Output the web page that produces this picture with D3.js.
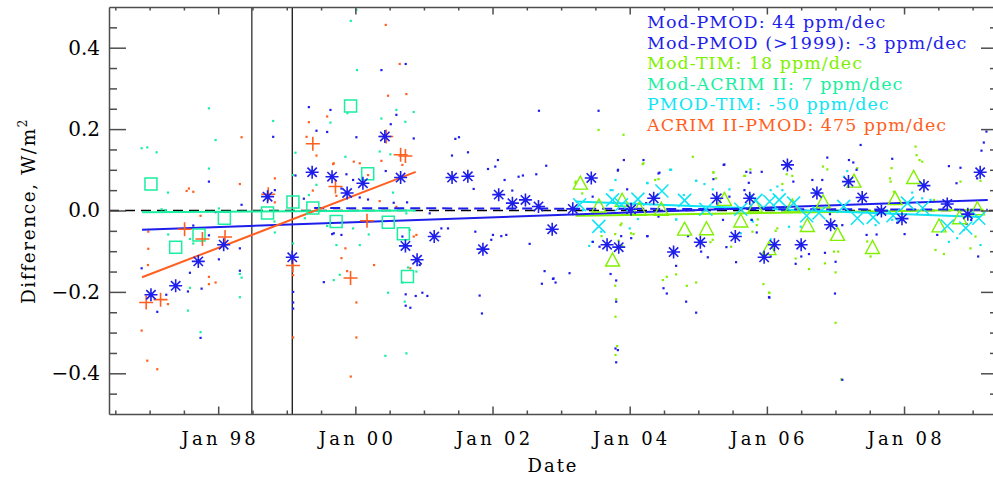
<!DOCTYPE html>
<html>
<head>
<meta charset="utf-8">
<script src="https://cdn.jsdelivr.net/npm/d3@7/dist/d3.min.js"></script>
<style>
  html, body { margin: 0; padding: 0; background: #fff; }
  svg { display: block; }
  .axis path, .axis line { stroke: #4d4d4d; stroke-width: 1.5; }
  .axis text { font-family: "DejaVu Serif", serif; fill: #000; }
</style>
</head>
<body>
<svg id="chart" width="993" height="477"></svg>
<script>
// ---- data (decimal year, W/m^2) ----
const majorYears = [1998, 2000, 2002, 2004, 2006, 2008];
const yMajor = [-0.4, -0.2, 0.0, 0.2, 0.4];
const gapDates = [1998.49, 1999.08]; // SOHO gaps

// Mod-PMOD, individual points
const pmodDots = [
  [1996.884,-0.142],[1997.112,-0.249],[1997.243,-0.207],[1997.588,-0.153],[1997.559,-0.199],
  [1997.758,-0.192],[1997.637,-0.037],[1997.865,-0.061],[1998.01,-0.12],[1997.865,0.071],
  [1998.341,0.014],[1997.962,-0.004],[1998.316,-0.093],[1998.316,-0.148],[1997.743,-0.313],
  [1998.802,0.181],[1998.826,0.05],[1999.127,0.086],[1999.093,-0.20],[1999.093,-0.226],
  [1999.093,-0.241],[1999.322,0.254],[1999.637,0.247],[1999.433,0.196],[1999.589,0.193],
  [1999.249,0.029],[1999.54,-0.176],[1999.662,-0.058],
  [2000.734,0.36],[2000.38,0.345],[2000.598,0.235],[2000.516,0.212],[2000.015,0.18],
  [2000.851,0.177],[2001.458,0.176],[2001.511,0.18],[2001.409,0.135],[2001.642,0.143],
  [2002.079,0.124],[2002.04,0.108],[2001.934,0.102],[2002.176,0.075],[2001.725,0.053],
  [2002.38,0.083],[2002.443,0.086],[2002.638,0.089],[2002.783,0.11],[2002.677,0.245],
  [2002.288,0.049],[2000.443,0.097],[2000.754,0.02],[2000.559,0.019],[2000.185,0.027],
  [2000.064,0.032],[1999.967,0.075],[1999.87,0.089],[1999.797,0.054],[2001.084,-0.007],
  [2001.254,-0.044],[2001.351,-0.044],[2001.749,-0.052],[2002.006,-0.06],[2002.128,-0.063],
  [2002.201,-0.06],[2002.541,-0.082],[2001.982,-0.072],[2000.686,-0.064],[2000.938,-0.134],
  [2000.734,-0.206],[2000.88,-0.21],[2000.734,-0.234],[2000.802,-0.239],[2000.977,-0.202],
  [2001.05,-0.21],[2001.812,-0.209],[2001.846,-0.253],[2002.759,-0.149],[2002.72,-0.18],
  [2002.89,-0.167],[1999.797,-0.06],[1999.685,-0.056],
  [2003.546,0.245],[2003.915,0.124],[2004.201,0.124],[2003.827,0.098],[2004.434,0.093],
  [2003.963,0.052],[2005.221,0.077],[2005.381,0.113],[2005.454,0.034],[2005.736,0.068],
  [2005.673,0.05],[2005.925,0.095],[2004.255,-0.063],[2004.022,-0.068],[2003.876,-0.063],
  [2003.721,-0.156],[2003.803,-0.172],[2003.803,-0.224],[2003.793,-0.339],[2003.827,-0.343],
  [2003.803,-0.373],[2003.123,-0.154],[2002.881,-0.168],[2002.919,-0.177],[2004.493,-0.191],
  [2004.541,-0.204],[2004.823,-0.224],[2004.969,-0.251],[2004.677,-0.136],[2005.139,-0.115],
  [2005.042,-0.101],[2005.551,-0.127],[2005.852,-0.054],[2005.78,-0.023],[2006.037,-0.214],
  [2003.463,-0.077],[2003.39,0.003],[2004.24,0.018],[2003.56,-0.089],
  [2003.83,0.1],[2004.42,0.091],[2005.37,0.112],[2005.76,0.093],[2003.46,0.034],
  [2004.26,-0.063],[2004.85,-0.063],[2004.42,-0.015],[2005.36,-0.023],[2005.41,-0.09],
  [2005.7,0.095],
  [2007.367,0.161],[2006.881,0.13],[2007.197,0.124],[2007.308,0.1],[2007.26,0.118],
  [2007.828,0.127],[2006.808,0.075],[2006.663,0.075],[2006.386,0.071],[2008.654,0.109],
  [2008.823,0.105],[2008.765,0.067],[2009.163,0.167],[2009.129,0.147],[2009.202,0.194],
  [2009.066,0.079],[2006.92,-0.009],[2007.1,-0.036],[2007.017,-0.038],[2006.847,-0.104],
  [2007.002,-0.126],[2006.993,-0.204],[2007.1,-0.416],[2006.42,-0.131],[2006.502,-0.113],
  [2006.614,-0.107],[2006.031,-0.213],[2006.056,-0.113],[2007.454,-0.06],[2007.6,-0.059],
  [2007.901,-0.03],[2008.008,-0.058],[2008.484,-0.06],[2008.911,-0.033],[2008.979,-0.023],
  [2009.081,-0.113]
];
// Mod-PMOD, averages (asterisks)
const pmodAvg = [
  [1997.02,-0.207],[1997.38,-0.185],[1997.71,-0.125],[1998.08,-0.084],[1998.72,0.034],
  [1999.08,-0.115],[1999.37,0.094],[1999.66,0.083],[1999.88,0.043],[2000.11,0.067],
  [2000.43,0.182],[2000.66,0.081],[2000.73,-0.087],[2000.90,-0.121],[2001.15,-0.064],
  [2001.41,0.081],[2001.64,0.084],[2001.86,-0.095],[2002.09,0.039],[2002.29,0.018],
  [2002.48,0.026],[2002.67,0.010],[2002.87,-0.046],[2003.17,0.004],[2003.44,0.080],
  [2003.67,-0.084],[2003.84,-0.090],[2004.02,0.003],[2004.35,0.030],[2004.64,-0.102],
  [2005.03,-0.078],[2005.27,0.030],[2005.54,-0.064],[2005.75,0.030],[2005.96,-0.115],
  [2006.11,-0.084],[2006.30,0.112],[2006.50,-0.084],[2006.73,0.043],[2006.93,-0.035],
  [2007.19,0.071],[2007.39,0.032],[2007.67,-0.001],[2007.97,-0.020],[2008.29,0.061],
  [2008.63,0.016],[2008.93,-0.009],[2009.11,0.094]
];
// Mod-ACRIM II
const acrimDots = [
  [1996.884,0.153],[1996.966,0.155],[1997.102,0.143],[1997.268,0.044],[1997.175,0.003],
  [1997.234,0.001],[1997.865,0.251],[1997.962,0.173],[1997.865,0.103],[1998.01,0.005],
  [1997.272,-0.059],[1997.588,-0.070],[1997.637,-0.081],[1997.588,-0.190],[1997.559,-0.246],
  [1997.743,-0.299],[1998.316,-0.156],[1998.341,-0.165],[1998.316,-0.213],[1998.802,0.220],
  [1999.127,0.142],[1999.093,0.087],[1999.322,0.038],[1998.821,-0.027],[1998.826,-0.054],
  [1999.093,-0.081],[1999.263,-0.019],[1999.637,0.216],[1999.433,0.063],[1999.589,-0.038],
  [2000.015,0.493],[1999.933,0.466],[2000.025,0.345],[2000.598,0.247],[2000.38,0.226],
  [2000.729,0.218],[2000.851,0.242],[1999.855,0.132],[2000.355,0.145],[2000.511,0.138],
  [1999.724,-0.085],[2000.064,-0.085],[1999.967,-0.044],[2000.195,-0.059],[2000.55,0.044],
  [1999.685,-0.171],[1999.773,-0.158],[2000.477,-0.202],[2000.72,-0.224],[2000.744,-0.351],
  [2000.438,-0.357],[2000.744,-0.007],[2000.89,-0.15],[2000.792,-0.048],[2000.686,-0.177],
  [2000.768,-0.14],[1999.884,0.239]
];
const acrimAvg = [
  [1997.02,0.065],[1997.38,-0.090],[1997.72,-0.060],[1998.09,-0.019],[1998.72,-0.006],
  [1999.09,0.021],[1999.38,0.006],[1999.72,-0.027],[1999.93,0.257],[2000.18,0.090],
  [2000.48,-0.029],[2000.70,-0.057],[2000.76,-0.162]
];
// ACRIM II - PMOD
const acrimPmodDots = [
  [1996.981,-0.052],[1996.981,-0.094],[1996.976,-0.134],[1996.884,-0.295],[1996.966,-0.369],
  [1997.112,-0.39],[1997.268,-0.23],[1997.573,0.054],[1997.637,0.046],[1997.54,0.048],
  [1997.743,-0.013],[1997.865,-0.163],[1997.962,-0.177],[1997.865,-0.181],[1998.341,0.18],
  [1998.316,0.065],[1998.826,0.079],[1999.093,-0.159],[1999.093,-0.312],[1999.322,0.217],
  [1999.288,0.181],[1999.433,0.135],[1999.589,0.231],[1999.676,0.114],[1999.38,0.049],
  [1998.826,0.02],
  [2000.443,0.456],[2000.647,0.36],[2000.477,0.282],[2000.744,0.286],[1999.685,0.116],
  [1999.977,0.12],[2000.064,0.116],[2000.38,0.122],[2000.686,0.112],[2000.185,0.087],
  [1999.724,0.036],[2000.355,0.023],[2000.598,0.009],[2000.851,-0.064],[1999.855,-0.093],
  [1999.797,-0.117],[2000.273,-0.134],[1999.88,-0.149],[2000.015,-0.226],[2000.015,-0.312],
  [1999.933,-0.408],[2000.802,-0.142],[2000.89,-0.06]
];
const acrimPmodAvg = [
  [1996.95,-0.226],[1997.16,-0.219],[1997.51,-0.046],[1997.77,-0.070],[1998.10,-0.065],
  [1998.73,0.040],[1999.09,-0.135],[1999.38,0.164],[1999.71,0.059],[1999.93,-0.166],
  [2000.17,-0.025],[2000.45,0.182],[2000.66,0.137],[2000.73,0.134]
];
// Mod-TIM
const timDots = [
  [2003.546,0.198],[2003.91,0.186],[2004.201,0.116],[2004.92,0.132],[2004.595,0.1],
  [2004.371,0.075],[2004.42,0.077],[2005.221,0.094],[2005.26,0.079],[2005.682,0.085],
  [2005.76,0.101],[2003.211,0.071],[2003.308,0.042],[2003.866,-0.036],[2003.789,-0.058],
  [2003.837,-0.074],[2004.056,-0.058],[2003.891,-0.087],[2003.59,-0.063],[2004.483,-0.171],
  [2004.541,-0.163],[2004.677,-0.157],[2004.833,-0.185],[2004.969,-0.177],[2003.789,-0.185],
  [2003.803,-0.218],[2003.793,-0.261],[2003.818,-0.333],[2003.793,-0.355],[2005.177,-0.078],
  [2005.479,-0.089],[2005.852,-0.036],[2005.867,-0.022],[2005.95,-0.181],[2006.037,-0.202],
  [2004.19,0.114],[2005.22,0.093],[2005.67,0.085],[2003.88,-0.032],[2004.02,-0.056],
  [2005.21,-0.072],[2003.21,0.067],[2005.79,-0.052],
  [2008.168,0.157],[2008.183,0.136],[2008.226,0.124],[2008.265,0.12],[2007.818,0.104],
  [2007.794,0.079],[2007.804,0.071],[2007.318,0.104],[2006.881,0.101],[2006.818,0.108],
  [2006.289,0.089],[2006.371,0.085],[2006.226,0.065],[2006.153,-0.044],[2006.128,-0.05],
  [2006.745,0.042],[2007.852,0.046],[2008.435,0.026],[2008.823,0.071],[2006.978,-0.101],
  [2007.041,-0.101],[2006.42,-0.118],[2006.614,-0.144],[2006.847,-0.13],[2007.002,-0.152],
  [2007.002,-0.276],[2007.085,-0.415],[2008.459,-0.097],[2008.581,-0.107],[2008.969,-0.093],
  [2009.042,-0.064],[2009.115,0.073],[2006.031,-0.202],[2007.464,-0.076],[2007.512,-0.113]
];
const timAvg = [
  [2003.28,0.066],[2003.55,0.010],[2003.75,-0.123],[2003.89,0.024],[2004.14,0.002],
  [2004.46,0.002],[2004.80,-0.047],[2005.12,-0.046],[2005.38,0.026],[2005.62,-0.027],
  [2005.83,0.010],[2006.03,-0.095],[2006.37,0.010],[2006.59,-0.038],[2006.82,0.020],
  [2007.03,-0.060],[2007.27,0.071],[2007.54,-0.092],[2007.87,0.028],[2008.14,0.080],
  [2008.51,-0.039],[2008.81,-0.019],[2009.07,0.003]
];
// PMOD - TIM
const pmodTimDots = [
  [2003.793,0.075],[2003.721,0.05],[2004.255,0.068],[2004.969,0.073],[2005.09,0.065],
  [2004.604,0.1],[2004.789,0.038],[2004.677,-0.022],[2004.119,-0.021],[2003.454,-0.077],
  [2003.585,-0.052],[2005.794,-0.027],[2005.454,0.052],[2005.211,0.052],[2003.318,0.001],
  [2003.75,0.05],[2004.26,0.067],[2004.59,0.1],[2004.97,0.073],[2004.68,-0.022],
  [2004.0,-0.044],[2003.41,-0.087],[2005.77,-0.023],[2005.62,-0.056],
  [2006.056,0.05],[2006.153,0.059],[2006.226,0.05],[2007.172,0.097],[2007.124,0.083],
  [2006.687,0.05],[2006.323,-0.04],[2006.493,-0.04],[2007.585,-0.036],[2007.828,-0.023],
  [2008.119,0.044],[2008.265,0.03],[2008.387,0.026],[2008.654,-0.077],[2008.775,-0.068],
  [2008.872,-0.048],[2009.115,-0.085],[2006.056,-0.071],[2006.128,-0.081]
];
const pmodTimAvg = [
  [2003.27,0.014],[2003.55,-0.039],[2003.75,0.026],[2003.88,0.014],[2004.12,0.028],
  [2004.47,0.048],[2004.80,0.025],[2005.11,0.003],[2005.62,0.003],[2005.84,0.025],
  [2006.04,0.022],[2006.18,0.026],[2006.39,0.018],[2006.58,-0.013],[2006.76,-0.006],
  [2007.12,0.010],[2007.32,-0.019],[2007.55,-0.017],[2007.84,-0.013],[2008.05,0.018],
  [2008.27,0.006],[2008.63,-0.038],[2008.90,-0.043],[2009.09,-0.019]
];
// linear fits (end points)
const fitPmod = [[1996.89,-0.047],[2009.22,0.026]];
const fitPmod1999 = [[1999.40,0.006],[2009.22,0.002]];
const fitTim = [[2003.21,-0.013],[2009.16,0.002]];
const fitAcrim = [[1996.89,-0.004],[2000.88,0.000]];
const fitPmodTim = [[2003.21,0.022],[2009.11,-0.016]];
const fitAcrimPmod = [[1996.89,-0.164],[2000.88,0.095]];

const legendLabels = [
  "Mod-PMOD: 44 ppm/dec",
  "Mod-PMOD (>1999): -3 ppm/dec",
  "Mod-TIM: 18 ppm/dec",
  "Mod-ACRIM II: 7 ppm/dec",
  "PMOD-TIM: -50 ppm/dec",
  "ACRIM II-PMOD: 475 ppm/dec"
];

const BLUE = "#1e1eeb", GREEN = "#80f000", AQUA = "#1aeea0", CYAN = "#10e4f4", ORANGE = "#ff5f1f";
const legendColors = [BLUE, BLUE, GREEN, AQUA, CYAN, ORANGE];

// ---- layout ----
const pL = 109, pR = 998, pT = 7, pB = 414;
const x = d3.scaleLinear().domain([1996.408, 2009.37]).range([pL, pR]);
const y = d3.scaleLinear().domain([-0.5, 0.5]).range([pB, pT]);

const svg = d3.select("#chart");

svg.append("defs").append("clipPath").attr("id", "plotclip")
  .append("rect").attr("x", pL).attr("y", pT)
  .attr("width", pR - pL).attr("height", pB - pT);

const plot = svg.append("g").attr("clip-path", "url(#plotclip)");

// zero line
plot.append("line")
  .attr("x1", pL).attr("x2", pR)
  .attr("y1", y(0)).attr("y2", y(0))
  .attr("stroke", "#000").attr("stroke-width", 1.3)
  .attr("stroke-dasharray", "10,6");

// SOHO gap lines
plot.selectAll(".gap").data(gapDates).enter().append("line")
  .attr("x1", d => x(d)).attr("x2", d => x(d))
  .attr("y1", pT).attr("y2", pB)
  .attr("stroke", (d, i) => i === 0 ? "#555" : "#000")
  .attr("stroke-width", (d, i) => i === 0 ? 1.6 : 1.2);

// small dots
function dots(data, color) {
  plot.append("g").selectAll("rect").data(data).enter().append("rect")
    .attr("x", d => x(d[0]) - 1.1).attr("y", d => y(d[1]) - 1.1)
    .attr("width", 2.2).attr("height", 2.2)
    .attr("fill", color);
}
dots(acrimDots, AQUA);
dots(acrimPmodDots, ORANGE);
dots(timDots, GREEN);
dots(pmodTimDots, CYAN);
dots(pmodDots, BLUE);

// fit lines
const line = d3.line().x(d => x(d[0])).y(d => y(d[1]));
function fit(data, color, dash) {
  plot.append("path").datum(data)
    .attr("d", line)
    .attr("fill", "none")
    .attr("stroke", color)
    .attr("stroke-width", 2)
    .attr("stroke-dasharray", dash || null);
}
fit(fitAcrim, AQUA);
fit(fitTim, GREEN);
fit(fitPmodTim, CYAN);
fit(fitPmod, BLUE);
fit(fitPmod1999, BLUE, "10,6");
fit(fitAcrimPmod, ORANGE);

// symbols
const r = 6.5;
const shapes = {
  asterisk: `M0,${-r}V${r}M${-r},0H${r}M${-r * 0.72},${-r * 0.72}L${r * 0.72},${r * 0.72}M${-r * 0.72},${r * 0.72}L${r * 0.72},${-r * 0.72}`,
  plus: `M0,${-r - 0.5}V${r + 0.5}M${-r - 0.5},0H${r + 0.5}`,
  square: `M${-r + 0.5},${-r + 0.5}H${r - 0.5}V${r - 0.5}H${-r + 0.5}Z`,
  triangle: `M0,${-r - 1}L${r + 0.5},${r - 1}H${-r - 0.5}Z`,
  cross: `M${-r},${-r}L${r},${r}M${-r},${r}L${r},${-r}`
};
function symbols(data, shape, color, w) {
  plot.append("g").selectAll("path").data(data).enter().append("path")
    .attr("transform", d => `translate(${x(d[0])},${y(d[1])})`)
    .attr("d", shapes[shape])
    .attr("fill", "none")
    .attr("stroke", color)
    .attr("stroke-width", w || 1.5);
}
symbols(acrimAvg, "square", AQUA, 1.5);
symbols(timAvg, "triangle", GREEN, 1.4);
symbols(pmodTimAvg, "cross", CYAN, 1.6);
symbols(acrimPmodAvg, "plus", ORANGE, 1.6);
symbols(pmodAvg, "asterisk", BLUE, 1.6);

// ---- axes ----
const minorX = d3.range(1996.5, 2009.4, 0.5).filter(v => majorYears.indexOf(v) < 0);
const minorY = d3.range(-0.45, 0.46, 0.05).filter(v => Math.abs(Math.round(v * 20) % 4) !== 0);
const fmtYear = d => "Jan " + String(d % 100).padStart(2, "0");

function drawAxis(gen, pos, major, minor, majLen, minLen, fmt, pad) {
  const g1 = svg.append("g").attr("class", "axis").attr("transform", pos)
    .call(gen.tickValues(major).tickSizeInner(-majLen).tickSizeOuter(0)
      .tickPadding(pad || 0).tickFormat(fmt || (() => "")));
  const g2 = svg.append("g").attr("class", "axis").attr("transform", pos)
    .call(gen.tickValues(minor).tickSizeInner(-minLen).tickSizeOuter(0).tickFormat(() => ""));
  g2.select(".domain").remove();
  return g1;
}

const gx = drawAxis(d3.axisBottom(x), `translate(0,${pB})`, majorYears, minorX, 7.5, 3.5, fmtYear, 18);
gx.selectAll("text").style("font-size", "18px").style("letter-spacing", "3.2px").attr("dx", 1.6);
drawAxis(d3.axisTop(x), `translate(0,${pT})`, majorYears, minorX, 7.5, 3.5);

const gy = drawAxis(d3.axisLeft(y), `translate(${pL},0)`, yMajor, minorY, 17, 8, d3.format(".1f"), 9);
gy.selectAll("text").style("font-size", "20px");
drawAxis(d3.axisRight(y), `translate(${pR},0)`, yMajor, minorY, 17, 8);

// axis titles
svg.append("text")
  .attr("x", 553).attr("y", 472)
  .attr("text-anchor", "middle")
  .style("font-family", "DejaVu Serif, serif").style("font-size", "18px")
  .style("letter-spacing", "2px")
  .text("Date");

const yt = svg.append("text")
  .attr("transform", "translate(35,211) rotate(-90)")
  .attr("text-anchor", "middle")
  .style("font-family", "DejaVu Serif, serif").style("font-size", "18.5px")
  .style("letter-spacing", "1.6px");
yt.append("tspan").text("Difference, W/m");
yt.append("tspan").attr("dy", -8).style("font-size", "12px").text("2");

// legend
svg.append("g").selectAll("text").data(legendLabels).enter().append("text")
  .attr("x", 647).attr("y", (d, i) => 28.3 + i * 20.5)
  .attr("fill", (d, i) => legendColors[i])
  .style("font-family", "DejaVu Serif, serif").style("font-size", "17.5px")
  .style("letter-spacing", "1px")
  .text(d => d);
</script>
</body>
</html>
